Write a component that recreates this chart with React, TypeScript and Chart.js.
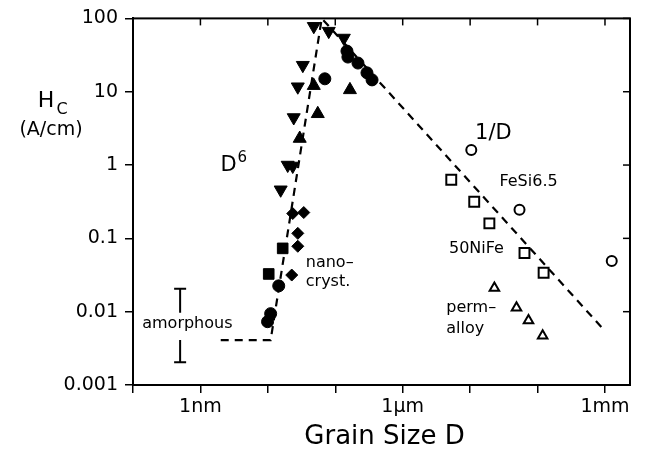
import React, { useEffect, useRef } from 'react';
import { Chart, registerables } from 'chart.js';

Chart.register(...registerables);

const FONT = '"DejaVu Sans", "Liberation Sans", sans-serif';

// Grain size D in nm, coercivity Hc in A/cm
const downTriD = [48, 80, 134, 33, 27.8, 24.2, 19.7, 23.4, 15.5];
const downTriH = [78, 67, 54, 23, 11.7, 4.45, 1.0, 0.97, 0.46];
const dotD = [149, 154, 217, 295, 351, 70, 14.5, 11, 9.9];
const dotH = [35.8, 29.7, 24.6, 18.1, 14.5, 15, 0.0225, 0.0094, 0.0073];
const upTriD = [48, 165, 55, 29.7];
const upTriH = [12.1, 10.6, 5.0, 2.3];
const diamondD = [23.4, 34.1, 27.8, 27.8, 22.6];
const diamondH = [0.218, 0.225, 0.117, 0.078, 0.0316];
const squareD = [16.6, 10.3];
const squareH = [0.073, 0.0327];
const fesiD = [10400, 54000, 1.26e6];
const fesiH = [1.6, 0.246, 0.049];
const nifeD = [5250, 11500, 19300, 64000, 123000];
const nifeH = [0.63, 0.316, 0.16, 0.063, 0.034];
const permD = [22900, 48700, 73400, 119000];
const permH = [0.021, 0.0113, 0.0076, 0.0047];

// dashed guide: amorphous plateau, D^6 rise, 1/D fall
const trendD = [2, 11, 63, 9.9e5];
const trendH = [0.0041, 0.0041, 100, 0.0055];

// amorphous range bar
const amorphD = 0.5;
const amorphLow = [0.00205, 0.0041];
const amorphHigh = [0.0097, 0.0205];

// axes
const xMin = 0.1;
const xMax = 2.35e6;
const xTickValues = [0.1, 1, 10, 100, 1e3, 1e4, 1e5, 1e6];
const xTickLabels = ['', '1nm', '', '', '1µm', '', '', '1mm'];
const yTickValues = [0.001, 0.01, 0.1, 1, 10, 100];
const yTickLabels = ['0.001', '0.01', '0.1', '1', '10', '100'];

// annotations
const noteText = ['1/D', 'FeSi6.5', '50NiFe', 'perm–', 'alloy', 'nano–', 'cryst.', 'amorphous'];
const noteD = [22100, 73500, 12400, 4430, 4430, 36.5, 36.5, 0.64];
const noteH = [2.7, 0.59, 0.071, 0.0113, 0.0059, 0.046, 0.0254, 0.0069];
const noteAlign: CanvasTextAlign[] = ['center', 'center', 'center', 'left', 'left', 'left', 'left', 'center'];
const noteSize = [21, 16, 16, 16, 16, 16, 16, 16];
const d6D = 2.61;
const d6H = 0.97;

const pts = (d: number[], h: number[]) => d.map((v, i) => ({ x: v, y: h[i] }));

const overlay = {
  id: 'overlay',
  afterDraw(chart: any) {
    const { ctx, chartArea: a, scales } = chart;
    const xs = scales.x;
    const ys = scales.y;
    ctx.save();
    ctx.strokeStyle = '#000';
    ctx.fillStyle = '#000';
    ctx.lineWidth = 2;
    ctx.strokeRect(a.left, a.top, a.right - a.left, a.bottom - a.top);
    ctx.lineWidth = 1.5;
    xTickValues.forEach((v) => {
      const px = xs.getPixelForValue(v);
      ctx.beginPath();
      ctx.moveTo(px, a.top);
      ctx.lineTo(px, a.top + 7);
      ctx.stroke();
    });
    yTickValues.forEach((v) => {
      const py = ys.getPixelForValue(v);
      ctx.beginPath();
      ctx.moveTo(a.right, py);
      ctx.lineTo(a.right - 7, py);
      ctx.stroke();
    });

    // amorphous bar
    const bx = xs.getPixelForValue(amorphD);
    ctx.lineWidth = 2;
    const seg = (v1: number, v2: number, cap: number) => {
      const p1 = ys.getPixelForValue(v1);
      const p2 = ys.getPixelForValue(v2);
      ctx.beginPath();
      ctx.moveTo(bx, p1);
      ctx.lineTo(bx, p2);
      const pc = ys.getPixelForValue(cap);
      ctx.moveTo(bx - 6, pc);
      ctx.lineTo(bx + 6, pc);
      ctx.stroke();
    };
    seg(amorphLow[0], amorphLow[1], amorphLow[0]);
    seg(amorphHigh[0], amorphHigh[1], amorphHigh[1]);

    // notes
    ctx.textBaseline = 'middle';
    noteText.forEach((t, i) => {
      ctx.font = `${noteSize[i]}px ${FONT}`;
      ctx.textAlign = noteAlign[i];
      ctx.fillText(t, xs.getPixelForValue(noteD[i]), ys.getPixelForValue(noteH[i]));
    });
    const dx = xs.getPixelForValue(d6D);
    const dy = ys.getPixelForValue(d6H);
    ctx.font = `21px ${FONT}`;
    ctx.textAlign = 'center';
    ctx.fillText('D', dx, dy);
    ctx.font = `15px ${FONT}`;
    ctx.textAlign = 'left';
    ctx.fillText('6', dx + 9, dy - 8);

    // axis titles
    ctx.textAlign = 'center';
    ctx.font = `26px ${FONT}`;
    ctx.fillText('Grain Size D', (a.left + a.right) / 2 + 3, 437);
    ctx.font = `22px ${FONT}`;
    ctx.fillText('H', 46, 101);
    ctx.font = `16px ${FONT}`;
    ctx.fillText('C', 62, 110);
    ctx.font = `19px ${FONT}`;
    ctx.fillText('(A/cm)', 51, 130);
    ctx.restore();
  },
};

export default function App() {
  const ref = useRef<HTMLCanvasElement | null>(null);
  useEffect(() => {
    if (!ref.current) return;
    const filled = (data: any, style: string, r: number, rot = 0) => ({
      data,
      pointStyle: style,
      pointRadius: r,
      pointRotation: rot,
      backgroundColor: '#000',
      borderColor: '#000',
      borderWidth: 1,
      showLine: false,
    });
    const open = (data: any, style: string, r: number) => ({
      data,
      pointStyle: style,
      pointRadius: r,
      backgroundColor: 'rgba(0,0,0,0)',
      borderColor: '#000',
      borderWidth: 2,
      showLine: false,
    });
    const chart = new Chart(ref.current, {
      type: 'scatter',
      data: {
        datasets: [
          {
            data: pts(trendD, trendH),
            showLine: true,
            borderColor: '#000',
            borderWidth: 2.2,
            borderDash: [8, 6],
            pointRadius: 0,
            fill: false,
            tension: 0,
          } as any,
          filled(pts(downTriD, downTriH), 'triangle', 7.5, 180),
          filled(pts(dotD, dotH), 'circle', 6),
          filled(pts(upTriD, upTriH), 'triangle', 7.5),
          filled(pts(diamondD, diamondH), 'rectRot', 6),
          filled(pts(squareD, squareH), 'rect', 7.5),
          open(pts(fesiD, fesiH), 'circle', 5),
          open(pts(nifeD, nifeH), 'rect', 7),
          open(pts(permD, permH), 'triangle', 5.5),
        ],
      },
      options: {
        animation: false,
        responsive: false,
        devicePixelRatio: 1,
        layout: { padding: { top: 15, right: 18, left: 0, bottom: 0 } },
        plugins: { legend: { display: false }, tooltip: { enabled: false } },
        scales: {
          x: {
            type: 'logarithmic',
            min: xMin,
            max: xMax,
            bounds: 'data',
            afterBuildTicks: (s: any) => {
              s.ticks = xTickValues.map((v) => ({ value: v }));
            },
            afterFit: (s: any) => {
              s.height = 77;
            },
            grid: {
              display: true,
              drawOnChartArea: false,
              drawTicks: true,
              tickLength: 8,
              color: '#000',
              lineWidth: 1.5,
            },
            border: { display: true, color: '#000', width: 2 },
            ticks: {
              autoSkip: false,
              maxRotation: 0,
              padding: 3,
              color: '#000',
              font: { family: FONT, size: 19 },
              callback: (_v: any, i: number) => xTickLabels[i] ?? '',
            },
          },
          y: {
            type: 'logarithmic',
            min: 0.001,
            max: 100,
            afterBuildTicks: (s: any) => {
              s.ticks = yTickValues.map((v) => ({ value: v }));
            },
            afterFit: (s: any) => {
              s.width = 133;
            },
            grid: {
              display: true,
              drawOnChartArea: false,
              drawTicks: true,
              tickLength: 8,
              color: '#000',
              lineWidth: 1.5,
            },
            border: { display: true, color: '#000', width: 2 },
            ticks: {
              autoSkip: false,
              padding: 7,
              color: '#000',
              font: { family: FONT, size: 19 },
              callback: (_v: any, i: number) => yTickLabels[i] ?? '',
            },
          },
        },
      } as any,
      plugins: [overlay],
    });
    return () => chart.destroy();
  }, []);
  return (
    <div style={{ position: 'absolute', left: 0, top: 0, width: 648, height: 462, background: '#fff' }}>
      <canvas ref={ref} width={648} height={462} />
    </div>
  );
}
